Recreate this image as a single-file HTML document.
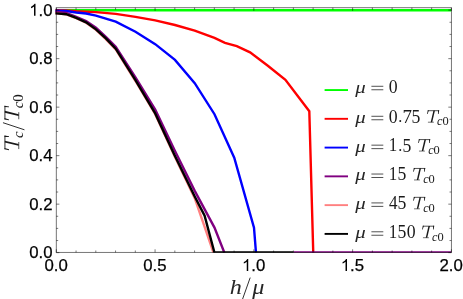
<!DOCTYPE html>
<html><head><meta charset="utf-8"><title>Tc vs h</title>
<style>
html,body{margin:0;padding:0;background:#fff;}
body{width:463px;height:299px;overflow:hidden;}
svg{display:block;will-change:transform;}
.tx{filter:grayscale(1);}
text{font-family:"Liberation Sans",sans-serif;}
</style></head><body>
<svg width="463" height="299" viewBox="0 0 463 299">
<rect width="463" height="299" fill="#fff"/>
<defs><clipPath id="cp"><rect x="55.30" y="7.70" width="396.10" height="245.15"/></clipPath></defs>

<g clip-path="url(#cp)" fill="none" stroke-width="2.4" stroke-linejoin="miter" stroke-linecap="butt">
<path d="M56.45 10.20 L451.55 10.20" stroke="#00ff00"/>
<path d="M55.26 10.20 L56.45 10.20 L66.33 10.44 L76.20 11.29 L95.96 12.14 L115.72 13.84 L135.47 16.89 L155.22 20.39 L174.98 24.99 L194.73 30.57 L214.49 37.89 L224.96 42.89 L236.81 46.21 L250.05 52.40 L267.83 65.73 L285.41 79.80 L309.31 111.20 L313.26 252.70" stroke="#ff0000"/>
<path d="M55.26 10.69 L56.45 10.69 L66.33 11.05 L76.20 12.50 L86.08 13.47 L95.96 15.54 L115.72 21.60 L135.47 31.78 L155.22 44.15 L174.98 59.91 L194.73 83.19 L214.49 114.23 L234.24 157.64 L254.00 227.60 L255.98 252.70" stroke="#0000ff"/>
<path d="M55.26 12.02 L56.45 12.02 L66.33 12.87 L76.20 16.75 L86.08 20.99 L95.96 27.78 L105.84 36.75 L115.72 46.70 L135.47 77.49 L155.22 109.63 L174.98 151.07 L194.73 190.86 L214.49 227.60 L224.37 252.70 M293.51 252.41 L451.55 252.41" stroke="#800080"/>
<path d="M55.26 13.35 L56.45 13.35 L66.33 14.32 L76.20 18.20 L86.08 22.69 L95.96 29.84 L105.84 39.18 L115.72 49.48 L135.47 81.01 L155.22 114.23 L174.98 156.89 L194.73 198.14 L213.50 252.70" stroke="#ff8080"/>
<path d="M55.26 13.35 L56.45 13.35 L66.33 14.20 L76.20 17.96 L86.08 22.32 L95.96 29.36 L105.84 38.45 L115.72 48.64 L135.47 80.16 L155.22 113.38 L174.98 156.04 L194.73 196.44 L204.61 215.69 L214.49 252.70 L215.08 252.55 L293.51 252.55" stroke="#000000"/>
</g>
<rect x="56.30" y="7.70" width="395.10" height="244.70" fill="none" stroke="#000" stroke-opacity="0.6" stroke-width="0.9"/>
<path d="M56.30 252.40 v-3.10 M56.30 7.70 v3.10 M76.05 252.40 v-1.90 M76.05 7.70 v1.90 M95.81 252.40 v-1.90 M95.81 7.70 v1.90 M115.56 252.40 v-1.90 M115.56 7.70 v1.90 M135.32 252.40 v-1.90 M135.32 7.70 v1.90 M155.07 252.40 v-3.10 M155.07 7.70 v3.10 M174.83 252.40 v-1.90 M174.83 7.70 v1.90 M194.58 252.40 v-1.90 M194.58 7.70 v1.90 M214.34 252.40 v-1.90 M214.34 7.70 v1.90 M234.09 252.40 v-1.90 M234.09 7.70 v1.90 M253.85 252.40 v-3.10 M253.85 7.70 v3.10 M273.61 252.40 v-1.90 M273.61 7.70 v1.90 M293.36 252.40 v-1.90 M293.36 7.70 v1.90 M313.12 252.40 v-1.90 M313.12 7.70 v1.90 M332.87 252.40 v-1.90 M332.87 7.70 v1.90 M352.62 252.40 v-3.10 M352.62 7.70 v3.10 M372.38 252.40 v-1.90 M372.38 7.70 v1.90 M392.13 252.40 v-1.90 M392.13 7.70 v1.90 M411.89 252.40 v-1.90 M411.89 7.70 v1.90 M431.64 252.40 v-1.90 M431.64 7.70 v1.90 M451.40 252.40 v-3.10 M451.40 7.70 v3.10 M56.30 252.65 h3.10 M451.40 252.65 h-3.10 M56.30 240.53 h1.90 M451.40 240.53 h-1.90 M56.30 228.40 h1.90 M451.40 228.40 h-1.90 M56.30 216.28 h1.90 M451.40 216.28 h-1.90 M56.30 204.15 h3.10 M451.40 204.15 h-3.10 M56.30 192.03 h1.90 M451.40 192.03 h-1.90 M56.30 179.90 h1.90 M451.40 179.90 h-1.90 M56.30 167.78 h1.90 M451.40 167.78 h-1.90 M56.30 155.65 h3.10 M451.40 155.65 h-3.10 M56.30 143.53 h1.90 M451.40 143.53 h-1.90 M56.30 131.40 h1.90 M451.40 131.40 h-1.90 M56.30 119.28 h1.90 M451.40 119.28 h-1.90 M56.30 107.15 h3.10 M451.40 107.15 h-3.10 M56.30 95.03 h1.90 M451.40 95.03 h-1.90 M56.30 82.90 h1.90 M451.40 82.90 h-1.90 M56.30 70.78 h1.90 M451.40 70.78 h-1.90 M56.30 58.65 h3.10 M451.40 58.65 h-3.10 M56.30 46.53 h1.90 M451.40 46.53 h-1.90 M56.30 34.40 h1.90 M451.40 34.40 h-1.90 M56.30 22.28 h1.90 M451.40 22.28 h-1.90 M56.30 10.15 h3.10 M451.40 10.15 h-3.10" stroke="#000" stroke-opacity="0.65" stroke-width="0.8" fill="none"/>
<g class="tx">
<g font-size="16.8px" fill="#000" stroke="#000" stroke-width="0.25">
<text x="44.42" y="271.10">0.0</text>
<text x="143.20" y="271.10">0.5</text>
<path transform="translate(241.97,271.10) scale(0.00820,-0.00820)" d="M763 0H583V1147Q518 1085 412.5 1023T223 930V1104Q374 1175 487 1276T647 1472H763Z" fill="#000"/><text x="251.31" y="271.10">.0</text>
<path transform="translate(340.75,271.10) scale(0.00820,-0.00820)" d="M763 0H583V1147Q518 1085 412.5 1023T223 930V1104Q374 1175 487 1276T647 1472H763Z" fill="#000"/><text x="350.09" y="271.10">.5</text>
<text x="439.52" y="271.10">2.0</text>
<text x="29.24" y="258.30">0.0</text>
<text x="29.24" y="209.80">0.2</text>
<text x="29.24" y="161.30">0.4</text>
<text x="29.24" y="112.80">0.6</text>
<text x="29.24" y="64.30">0.8</text>
<path transform="translate(29.24,15.80) scale(0.00820,-0.00820)" d="M763 0H583V1147Q518 1085 412.5 1023T223 930V1104Q374 1175 487 1276T647 1472H763Z" fill="#000"/><text x="38.59" y="15.80">.0</text>
</g>
<g>
<text transform="translate(229.73,294.00) scale(0.2417,0.2190)" style='font:italic 100px "Liberation Serif",serif' fill="#262626">h</text>
<path d="M242.5 299.3 L250.2 277.6" stroke="#1a1a1a" stroke-width="0.9" fill="none"/>
<text transform="translate(252.22,294.21) scale(0.2426,0.2006)" style='font:italic 100px "Liberation Serif",serif' fill="#262626">μ</text>
</g>
<g transform="translate(19.10,150.70) rotate(-90)">
<path d="M8.23 -14.30 L10.04 -14.30 L6.75 -0.43 L4.95 -0.43 Z" fill="#1a1a1a"/><path d="M1.51 -14.17 L15.05 -14.17" stroke="#1a1a1a" stroke-width="0.903" fill="none"/><path d="M1.42 -14.62 L2.79 -14.62 L1.33 -10.10 L0.56 -10.10 Z" fill="#1a1a1a"/><path d="M13.76 -14.62 L15.14 -14.62 L14.45 -10.10 L13.67 -10.10 Z" fill="#1a1a1a"/><path d="M1.61 -0.34 L8.71 -0.34" stroke="#1a1a1a" stroke-width="0.731" fill="none"/>
<text transform="translate(12.61,3.62) scale(0.1483,0.1417)" style='font:italic 100px "Liberation Serif",serif' fill="#1a1a1a">c</text>
<path d="M20.90 5.38 L28.00 -16.12" stroke="#1a1a1a" stroke-width="0.9" fill="none"/>
<path d="M38.06 -14.30 L39.86 -14.30 L36.57 -0.43 L34.77 -0.43 Z" fill="#1a1a1a"/><path d="M31.33 -14.17 L44.87 -14.17" stroke="#1a1a1a" stroke-width="0.903" fill="none"/><path d="M31.24 -14.62 L32.62 -14.62 L31.16 -10.10 L30.38 -10.10 Z" fill="#1a1a1a"/><path d="M43.58 -14.62 L44.96 -14.62 L44.27 -10.10 L43.50 -10.10 Z" fill="#1a1a1a"/><path d="M31.44 -0.34 L38.53 -0.34" stroke="#1a1a1a" stroke-width="0.731" fill="none"/>
<text transform="translate(42.43,3.62) scale(0.1483,0.1417)" style='font:italic 100px "Liberation Serif",serif' fill="#1a1a1a">c</text>
<text transform="translate(48.91,3.78) scale(0.1494,0.1534)" style='font:normal 100px "Liberation Serif",serif' fill="#1a1a1a">0</text>
</g>
<text transform="translate(355.22,92.62) scale(0.2085,0.1750)" style='font:italic 100px "Liberation Serif",serif' fill="#262626">μ</text>
<path d="M371.4 86.29 H383.3 M371.4 89.76 H383.3" stroke="#1a1a1a" stroke-width="0.75" fill="none"/>
<text transform="translate(388.82,92.71) scale(0.1777,0.1824)" style='font:normal 100px "Liberation Serif",serif' fill="#1a1a1a">0</text>
<text transform="translate(355.22,122.62) scale(0.2085,0.1750)" style='font:italic 100px "Liberation Serif",serif' fill="#262626">μ</text>
<path d="M371.4 116.29 H383.3 M371.4 119.76 H383.3" stroke="#1a1a1a" stroke-width="0.75" fill="none"/>
<text transform="translate(388.82,122.71) scale(0.1777,0.1824)" style='font:normal 100px "Liberation Serif",serif' fill="#1a1a1a">0</text>
<text transform="translate(398.23,122.27) scale(0.1608,0.1608)" style='font:normal 100px "Liberation Serif",serif' fill="#1a1a1a">.</text>
<text transform="translate(402.48,122.89) scale(0.1896,0.1908)" style='font:normal 100px "Liberation Serif",serif' fill="#1a1a1a">7</text>
<text transform="translate(411.54,122.71) scale(0.1772,0.1852)" style='font:normal 100px "Liberation Serif",serif' fill="#1a1a1a">5</text>
<path d="M433.44 110.60 L434.95 110.60 L432.21 122.14 L430.70 122.14 Z" fill="#1a1a1a"/><path d="M427.84 110.70 L439.12 110.70" stroke="#1a1a1a" stroke-width="0.752" fill="none"/><path d="M427.77 110.33 L428.91 110.33 L427.70 114.09 L427.05 114.09 Z" fill="#1a1a1a"/><path d="M438.04 110.33 L439.19 110.33 L438.62 114.09 L437.97 114.09 Z" fill="#1a1a1a"/><path d="M427.93 122.21 L433.84 122.21" stroke="#1a1a1a" stroke-width="0.609" fill="none"/>
<text transform="translate(437.08,125.20) scale(0.1234,0.1180)" style='font:italic 100px "Liberation Serif",serif' fill="#1a1a1a">c</text>
<text transform="translate(442.48,125.33) scale(0.1244,0.1277)" style='font:normal 100px "Liberation Serif",serif' fill="#1a1a1a">0</text>
<text transform="translate(355.22,151.50) scale(0.2085,0.1750)" style='font:italic 100px "Liberation Serif",serif' fill="#262626">μ</text>
<path d="M371.4 145.17 H383.3 M371.4 148.63 H383.3" stroke="#1a1a1a" stroke-width="0.75" fill="none"/>
<text transform="translate(388.86,151.38) scale(0.1698,0.1806)" style='font:normal 100px "Liberation Serif",serif' fill="#1a1a1a">1</text>
<text transform="translate(398.23,151.15) scale(0.1608,0.1608)" style='font:normal 100px "Liberation Serif",serif' fill="#1a1a1a">.</text>
<text transform="translate(402.59,151.58) scale(0.1772,0.1852)" style='font:normal 100px "Liberation Serif",serif' fill="#1a1a1a">5</text>
<path d="M424.49 139.47 L426.00 139.47 L423.26 151.02 L421.75 151.02 Z" fill="#1a1a1a"/><path d="M418.89 139.58 L430.17 139.58" stroke="#1a1a1a" stroke-width="0.752" fill="none"/><path d="M418.82 139.20 L419.96 139.20 L418.75 142.96 L418.10 142.96 Z" fill="#1a1a1a"/><path d="M429.09 139.20 L430.24 139.20 L429.67 142.96 L429.02 142.96 Z" fill="#1a1a1a"/><path d="M418.98 151.09 L424.89 151.09" stroke="#1a1a1a" stroke-width="0.609" fill="none"/>
<text transform="translate(428.13,154.08) scale(0.1234,0.1180)" style='font:italic 100px "Liberation Serif",serif' fill="#1a1a1a">c</text>
<text transform="translate(433.53,154.21) scale(0.1244,0.1277)" style='font:normal 100px "Liberation Serif",serif' fill="#1a1a1a">0</text>
<text transform="translate(355.22,180.37) scale(0.2085,0.1750)" style='font:italic 100px "Liberation Serif",serif' fill="#262626">μ</text>
<path d="M371.4 174.04 H383.3 M371.4 177.51 H383.3" stroke="#1a1a1a" stroke-width="0.75" fill="none"/>
<text transform="translate(388.86,180.25) scale(0.1698,0.1806)" style='font:normal 100px "Liberation Serif",serif' fill="#1a1a1a">1</text>
<text transform="translate(397.62,180.46) scale(0.1772,0.1852)" style='font:normal 100px "Liberation Serif",serif' fill="#1a1a1a">5</text>
<path d="M419.52 168.35 L421.02 168.35 L418.28 179.89 L416.78 179.89 Z" fill="#1a1a1a"/><path d="M413.91 168.45 L425.19 168.45" stroke="#1a1a1a" stroke-width="0.752" fill="none"/><path d="M413.84 168.08 L414.99 168.08 L413.77 171.84 L413.13 171.84 Z" fill="#1a1a1a"/><path d="M424.12 168.08 L425.26 168.08 L424.69 171.84 L424.05 171.84 Z" fill="#1a1a1a"/><path d="M414.00 179.96 L419.91 179.96" stroke="#1a1a1a" stroke-width="0.609" fill="none"/>
<text transform="translate(423.16,182.95) scale(0.1234,0.1180)" style='font:italic 100px "Liberation Serif",serif' fill="#1a1a1a">c</text>
<text transform="translate(428.56,183.08) scale(0.1244,0.1277)" style='font:normal 100px "Liberation Serif",serif' fill="#1a1a1a">0</text>
<text transform="translate(355.22,209.25) scale(0.2085,0.1750)" style='font:italic 100px "Liberation Serif",serif' fill="#262626">μ</text>
<path d="M371.4 202.92 H383.3 M371.4 206.38 H383.3" stroke="#1a1a1a" stroke-width="0.75" fill="none"/>
<text transform="translate(388.96,209.12) scale(0.1709,0.1842)" style='font:normal 100px "Liberation Serif",serif' fill="#1a1a1a">4</text>
<text transform="translate(397.62,209.33) scale(0.1772,0.1852)" style='font:normal 100px "Liberation Serif",serif' fill="#1a1a1a">5</text>
<path d="M419.52 197.22 L421.02 197.22 L418.28 208.77 L416.78 208.77 Z" fill="#1a1a1a"/><path d="M413.91 197.33 L425.19 197.33" stroke="#1a1a1a" stroke-width="0.752" fill="none"/><path d="M413.84 196.95 L414.99 196.95 L413.77 200.71 L413.13 200.71 Z" fill="#1a1a1a"/><path d="M424.12 196.95 L425.26 196.95 L424.69 200.71 L424.05 200.71 Z" fill="#1a1a1a"/><path d="M414.00 208.84 L419.91 208.84" stroke="#1a1a1a" stroke-width="0.609" fill="none"/>
<text transform="translate(423.16,211.83) scale(0.1234,0.1180)" style='font:italic 100px "Liberation Serif",serif' fill="#1a1a1a">c</text>
<text transform="translate(428.56,211.96) scale(0.1244,0.1277)" style='font:normal 100px "Liberation Serif",serif' fill="#1a1a1a">0</text>
<text transform="translate(355.22,238.12) scale(0.2085,0.1750)" style='font:italic 100px "Liberation Serif",serif' fill="#262626">μ</text>
<path d="M371.4 231.79 H383.3 M371.4 235.26 H383.3" stroke="#1a1a1a" stroke-width="0.75" fill="none"/>
<text transform="translate(388.86,238.00) scale(0.1698,0.1806)" style='font:normal 100px "Liberation Serif",serif' fill="#1a1a1a">1</text>
<text transform="translate(397.62,238.21) scale(0.1772,0.1852)" style='font:normal 100px "Liberation Serif",serif' fill="#1a1a1a">5</text>
<text transform="translate(406.72,238.21) scale(0.1777,0.1824)" style='font:normal 100px "Liberation Serif",serif' fill="#1a1a1a">0</text>
<path d="M428.47 226.10 L429.97 226.10 L427.23 237.64 L425.73 237.64 Z" fill="#1a1a1a"/><path d="M422.86 226.20 L434.14 226.20" stroke="#1a1a1a" stroke-width="0.752" fill="none"/><path d="M422.79 225.83 L423.94 225.83 L422.72 229.59 L422.08 229.59 Z" fill="#1a1a1a"/><path d="M433.07 225.83 L434.21 225.83 L433.64 229.59 L433.00 229.59 Z" fill="#1a1a1a"/><path d="M422.95 237.71 L428.86 237.71" stroke="#1a1a1a" stroke-width="0.609" fill="none"/>
<text transform="translate(432.11,240.70) scale(0.1234,0.1180)" style='font:italic 100px "Liberation Serif",serif' fill="#1a1a1a">c</text>
<text transform="translate(437.51,240.83) scale(0.1244,0.1277)" style='font:normal 100px "Liberation Serif",serif' fill="#1a1a1a">0</text>
</g>
<path d="M324.6 90.05 H348.0" stroke="#00ff00" stroke-width="1.9"/>
<path d="M324.6 118.82 H348.0" stroke="#ff0000" stroke-width="1.9"/>
<path d="M324.6 147.59 H348.0" stroke="#0000ff" stroke-width="1.9"/>
<path d="M324.6 176.36 H348.0" stroke="#800080" stroke-width="1.9"/>
<path d="M324.6 205.13 H348.0" stroke="#ff8080" stroke-width="1.9"/>
<path d="M324.6 233.90 H348.0" stroke="#000000" stroke-width="1.9"/>
</svg></body></html>
